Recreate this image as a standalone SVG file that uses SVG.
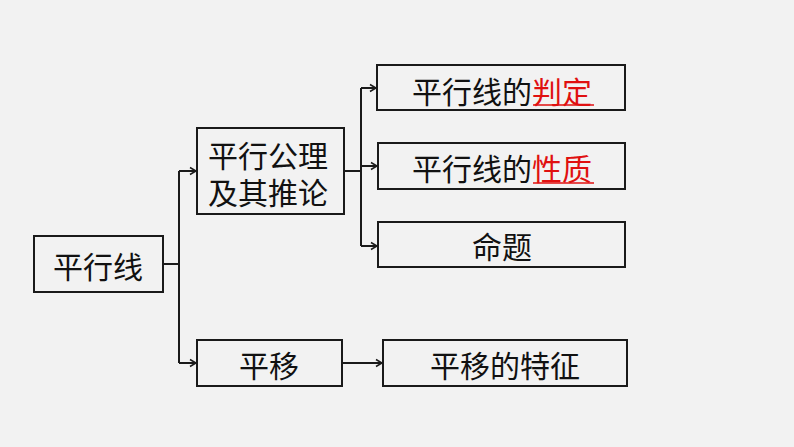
<svg xmlns="http://www.w3.org/2000/svg" width="794" height="447" viewBox="0 0 794 447">
<style>
.box{fill:none;stroke:#1a1a1a;stroke-width:2}
.t{font-family:"Noto Sans CJK SC","Noto Sans",sans-serif;font-size:30px;fill:#111;text-anchor:middle;dominant-baseline:central}
.red{fill:#e01010}
.ul{stroke:#e01010;stroke-width:1.6}
.c{fill:none;stroke:#1a1a1a;stroke-width:2}
</style>
<defs>
<marker id="a" markerWidth="10" markerHeight="10" refX="8" refY="5" orient="auto" markerUnits="userSpaceOnUse">
<path d="M2,1.5 L8,5 L2,8.5" fill="none" stroke="#1a1a1a" stroke-width="1.5"/>
</marker>
</defs>
<rect width="794" height="447" fill="#f2f2f2"/>
<g id="connectors">
<path class="c" d="M163,264 H179"/>
<path class="c" d="M179,171 V363"/>
<path class="c" d="M179,171 H196" marker-end="url(#a)"/>
<path class="c" d="M179,363 H196" marker-end="url(#a)"/>
<path class="c" d="M344,171 H361"/>
<path class="c" d="M361,88 V246"/>
<path class="c" d="M361,88 H376" marker-end="url(#a)"/>
<path class="c" d="M361,166 H377" marker-end="url(#a)"/>
<path class="c" d="M361,246 H377" marker-end="url(#a)"/>
<path class="c" d="M342,363 H382" marker-end="url(#a)"/>
</g>
<g id="n-pxx">
<rect class="box" x="34" y="236" width="129" height="56"/>
<text class="t" x="98" y="265">平行线</text>
</g>
<g id="n-gongli">
<rect class="box" x="197" y="128" width="147" height="86"/>
<text class="t" x="268" y="154">平行公理</text>
<text class="t" x="268" y="191">及其推论</text>
</g>
<g id="n-pingyi">
<rect class="box" x="197" y="340" width="145" height="46"/>
<text class="t" x="269" y="364">平移</text>
</g>
<g id="n-panding">
<rect class="box" x="377" y="65" width="248" height="45"/>
<text class="t" x="502" y="90">平行线的<tspan class="red">判定</tspan></text>
<line class="ul" x1="533" y1="105" x2="594" y2="105"/>
</g>
<g id="n-xingzhi">
<rect class="box" x="378" y="143" width="247" height="46"/>
<text class="t" x="502" y="167">平行线的<tspan class="red">性质</tspan></text>
<line class="ul" x1="533" y1="183" x2="594" y2="183"/>
</g>
<g id="n-mingti">
<rect class="box" x="378" y="222" width="247" height="45"/>
<text class="t" x="502" y="245">命题</text>
</g>
<g id="n-tezheng">
<rect class="box" x="383" y="340" width="244" height="46"/>
<text class="t" x="505" y="364">平移的特征</text>
</g>
</svg>
